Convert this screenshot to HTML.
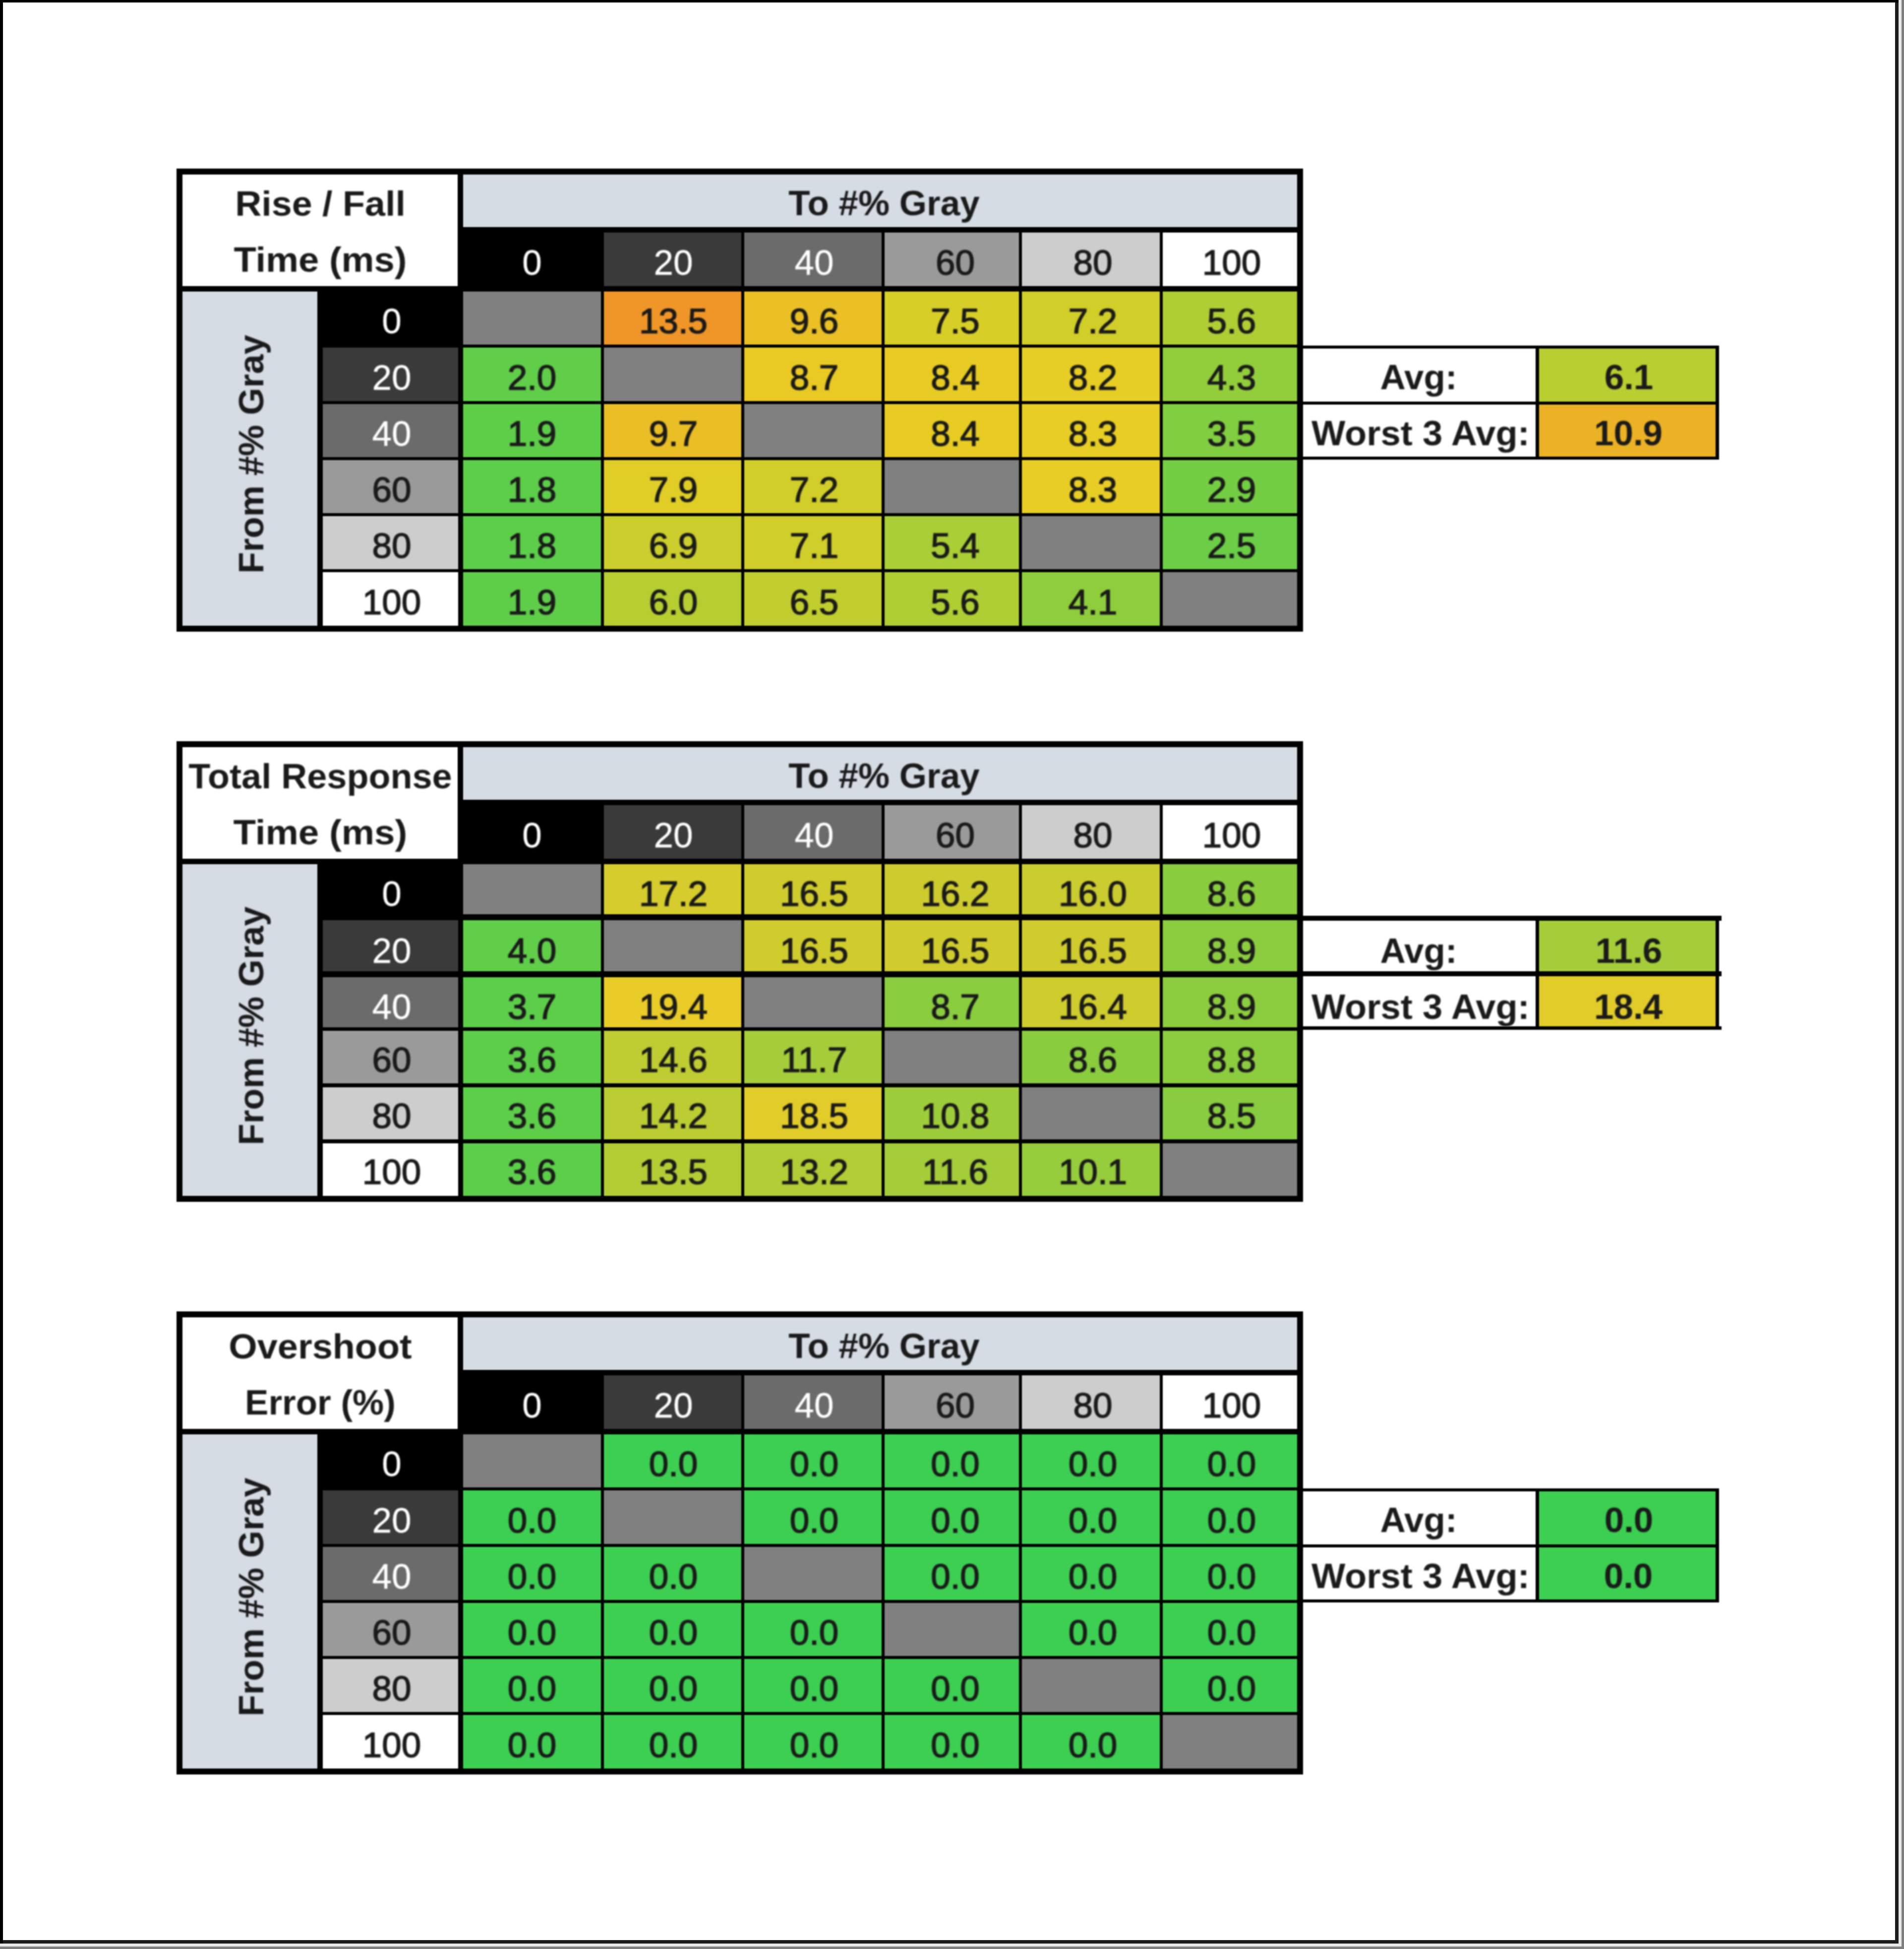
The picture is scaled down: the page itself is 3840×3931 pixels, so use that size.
<!DOCTYPE html>
<html><head><meta charset="utf-8"><style>
html,body{margin:0;padding:0;}
body{width:3840px;height:3931px;position:relative;overflow:hidden;background:#ffffff;font-family:"Liberation Sans", sans-serif;}
body>div,#w>div,#w2>div{position:absolute;}
.t{height:0;line-height:0;text-align:center;white-space:nowrap;}
.b{font-weight:bold;}
.r{font-weight:normal;-webkit-text-stroke:1.6px currentColor;}
.rw{font-weight:normal;-webkit-text-stroke:0.4px currentColor;}
</style></head><body>
<div style="left:0;top:0;width:3840px;height:3931px;background:#808080"></div>
<div style="left:0;top:0;width:3835px;height:3926px;background:#e8e8e8"></div>
<div style="left:0;top:0;width:3829px;height:3920px;background:#1c1c1c"></div>
<div style="left:0;top:0;width:3829px;height:5px;background:#000"></div>
<div style="left:0;top:0;width:6px;height:3920px;background:#000"></div>
<div style="left:6px;top:5px;width:3816px;height:3908px;background:#ffffff"></div>
<div id="w" style="left:0;top:0;width:3840px;height:3931px;filter:blur(1.2px)">
<div style="left:356px;top:340px;width:2272px;height:934px;background:#000000"></div>
<div style="left:368px;top:352px;width:555px;height:225px;background:#ffffff"></div>
<div style="left:934px;top:352px;width:1682px;height:106px;background:#d6dce4"></div>
<div style="left:934px;top:469px;width:278px;height:108px;background:#000000"></div>
<div style="left:1218px;top:469px;width:277px;height:108px;background:#3a3a3a"></div>
<div style="left:1501px;top:469px;width:277px;height:108px;background:#6b6b6b"></div>
<div style="left:1784px;top:469px;width:271px;height:108px;background:#9a9a9a"></div>
<div style="left:2061px;top:469px;width:278px;height:108px;background:#cdcdcd"></div>
<div style="left:2345px;top:469px;width:271px;height:108px;background:#ffffff"></div>
<div style="left:368px;top:588px;width:272px;height:674px;background:#d6dce4"></div>
<div style="left:651px;top:588px;width:273px;height:107px;background:#000000"></div>
<div style="left:934px;top:588px;width:278px;height:107px;background:#808080"></div>
<div style="left:1218px;top:588px;width:277px;height:107px;background:#f09628"></div>
<div style="left:1501px;top:588px;width:277px;height:107px;background:#eac025"></div>
<div style="left:1784px;top:588px;width:271px;height:107px;background:#d8ce28"></div>
<div style="left:2061px;top:588px;width:278px;height:107px;background:#d1ce2a"></div>
<div style="left:2345px;top:588px;width:271px;height:107px;background:#aece34"></div>
<div style="left:651px;top:701px;width:273px;height:108px;background:#3a3a3a"></div>
<div style="left:934px;top:701px;width:278px;height:108px;background:#60ce49"></div>
<div style="left:1218px;top:701px;width:277px;height:108px;background:#808080"></div>
<div style="left:1501px;top:701px;width:277px;height:108px;background:#e9c924"></div>
<div style="left:1784px;top:701px;width:271px;height:108px;background:#e8cc24"></div>
<div style="left:2061px;top:701px;width:278px;height:108px;background:#e7ce24"></div>
<div style="left:2345px;top:701px;width:271px;height:108px;background:#92ce3b"></div>
<div style="left:651px;top:815px;width:273px;height:107px;background:#6b6b6b"></div>
<div style="left:934px;top:815px;width:278px;height:107px;background:#5ece49"></div>
<div style="left:1218px;top:815px;width:277px;height:107px;background:#eabf25"></div>
<div style="left:1501px;top:815px;width:277px;height:107px;background:#808080"></div>
<div style="left:1784px;top:815px;width:271px;height:107px;background:#e8cc24"></div>
<div style="left:2061px;top:815px;width:278px;height:107px;background:#e8cd24"></div>
<div style="left:2345px;top:815px;width:271px;height:107px;background:#81ce40"></div>
<div style="left:651px;top:928px;width:273px;height:107px;background:#9a9a9a"></div>
<div style="left:934px;top:928px;width:278px;height:107px;background:#5cce4a"></div>
<div style="left:1218px;top:928px;width:277px;height:107px;background:#e0ce26"></div>
<div style="left:1501px;top:928px;width:277px;height:107px;background:#d1ce2a"></div>
<div style="left:1784px;top:928px;width:271px;height:107px;background:#808080"></div>
<div style="left:2061px;top:928px;width:278px;height:107px;background:#e8cd24"></div>
<div style="left:2345px;top:928px;width:271px;height:107px;background:#74ce44"></div>
<div style="left:651px;top:1041px;width:273px;height:107px;background:#cdcdcd"></div>
<div style="left:934px;top:1041px;width:278px;height:107px;background:#5cce4a"></div>
<div style="left:1218px;top:1041px;width:277px;height:107px;background:#cbce2c"></div>
<div style="left:1501px;top:1041px;width:277px;height:107px;background:#cfce2b"></div>
<div style="left:1784px;top:1041px;width:271px;height:107px;background:#aace35"></div>
<div style="left:2061px;top:1041px;width:278px;height:107px;background:#808080"></div>
<div style="left:2345px;top:1041px;width:271px;height:107px;background:#6bce46"></div>
<div style="left:651px;top:1154px;width:273px;height:108px;background:#ffffff"></div>
<div style="left:934px;top:1154px;width:278px;height:108px;background:#5ece49"></div>
<div style="left:1218px;top:1154px;width:277px;height:108px;background:#b7ce31"></div>
<div style="left:1501px;top:1154px;width:277px;height:108px;background:#c2ce2e"></div>
<div style="left:1784px;top:1154px;width:271px;height:108px;background:#aece34"></div>
<div style="left:2061px;top:1154px;width:278px;height:108px;background:#8ece3c"></div>
<div style="left:2345px;top:1154px;width:271px;height:108px;background:#808080"></div>
<div style="left:2628px;top:697px;width:839px;height:230px;background:#000000"></div>
<div style="left:2628px;top:703px;width:469px;height:107px;background:#ffffff"></div>
<div style="left:3104px;top:703px;width:356px;height:107px;background:#b9ce31"></div>
<div style="left:2628px;top:816px;width:469px;height:105px;background:#ffffff"></div>
<div style="left:3104px;top:816px;width:356px;height:105px;background:#ecb226"></div>
<div style="left:356px;top:1495px;width:2272px;height:929px;background:#000000"></div>
<div style="left:368px;top:1507px;width:555px;height:225px;background:#ffffff"></div>
<div style="left:934px;top:1507px;width:1682px;height:106px;background:#d6dce4"></div>
<div style="left:934px;top:1624px;width:278px;height:108px;background:#000000"></div>
<div style="left:1218px;top:1624px;width:277px;height:108px;background:#3a3a3a"></div>
<div style="left:1501px;top:1624px;width:277px;height:108px;background:#6b6b6b"></div>
<div style="left:1784px;top:1624px;width:271px;height:108px;background:#9a9a9a"></div>
<div style="left:2061px;top:1624px;width:278px;height:108px;background:#cdcdcd"></div>
<div style="left:2345px;top:1624px;width:271px;height:108px;background:#ffffff"></div>
<div style="left:368px;top:1743px;width:272px;height:669px;background:#d6dce4"></div>
<div style="left:651px;top:1743px;width:273px;height:101px;background:#000000"></div>
<div style="left:934px;top:1743px;width:278px;height:101px;background:#808080"></div>
<div style="left:1218px;top:1743px;width:277px;height:101px;background:#d6cc2d"></div>
<div style="left:1501px;top:1743px;width:277px;height:101px;background:#d0cc2e"></div>
<div style="left:1784px;top:1743px;width:271px;height:101px;background:#cdcc2f"></div>
<div style="left:2061px;top:1743px;width:278px;height:101px;background:#cbcc2f"></div>
<div style="left:2345px;top:1743px;width:271px;height:101px;background:#89cd3f"></div>
<div style="left:651px;top:1856px;width:273px;height:103px;background:#3a3a3a"></div>
<div style="left:934px;top:1856px;width:278px;height:103px;background:#60ce49"></div>
<div style="left:1218px;top:1856px;width:277px;height:103px;background:#808080"></div>
<div style="left:1501px;top:1856px;width:277px;height:103px;background:#d0cc2e"></div>
<div style="left:1784px;top:1856px;width:271px;height:103px;background:#d0cc2e"></div>
<div style="left:2061px;top:1856px;width:278px;height:103px;background:#d0cc2e"></div>
<div style="left:2345px;top:1856px;width:271px;height:103px;background:#8ccd3f"></div>
<div style="left:651px;top:1971px;width:273px;height:101px;background:#6b6b6b"></div>
<div style="left:934px;top:1971px;width:278px;height:101px;background:#5dce4a"></div>
<div style="left:1218px;top:1971px;width:277px;height:101px;background:#eacc28"></div>
<div style="left:1501px;top:1971px;width:277px;height:101px;background:#808080"></div>
<div style="left:1784px;top:1971px;width:271px;height:101px;background:#8acd3f"></div>
<div style="left:2061px;top:1971px;width:278px;height:101px;background:#cfcc2e"></div>
<div style="left:2345px;top:1971px;width:271px;height:101px;background:#8ccd3f"></div>
<div style="left:651px;top:2079px;width:273px;height:106px;background:#9a9a9a"></div>
<div style="left:934px;top:2079px;width:278px;height:106px;background:#5cce4a"></div>
<div style="left:1218px;top:2079px;width:277px;height:106px;background:#bfcd32"></div>
<div style="left:1501px;top:2079px;width:277px;height:106px;background:#a5cd39"></div>
<div style="left:1784px;top:2079px;width:271px;height:106px;background:#808080"></div>
<div style="left:2061px;top:2079px;width:278px;height:106px;background:#89cd3f"></div>
<div style="left:2345px;top:2079px;width:271px;height:106px;background:#8bcd3f"></div>
<div style="left:651px;top:2193px;width:273px;height:105px;background:#cdcdcd"></div>
<div style="left:934px;top:2193px;width:278px;height:105px;background:#5cce4a"></div>
<div style="left:1218px;top:2193px;width:277px;height:105px;background:#bbcd33"></div>
<div style="left:1501px;top:2193px;width:277px;height:105px;background:#e2cc2a"></div>
<div style="left:1784px;top:2193px;width:271px;height:105px;background:#9dcd3b"></div>
<div style="left:2061px;top:2193px;width:278px;height:105px;background:#808080"></div>
<div style="left:2345px;top:2193px;width:271px;height:105px;background:#88cd3f"></div>
<div style="left:651px;top:2306px;width:273px;height:106px;background:#ffffff"></div>
<div style="left:934px;top:2306px;width:278px;height:106px;background:#5cce4a"></div>
<div style="left:1218px;top:2306px;width:277px;height:106px;background:#b5cd35"></div>
<div style="left:1501px;top:2306px;width:277px;height:106px;background:#b2cd35"></div>
<div style="left:1784px;top:2306px;width:271px;height:106px;background:#a4cd39"></div>
<div style="left:2061px;top:2306px;width:278px;height:106px;background:#96cd3c"></div>
<div style="left:2345px;top:2306px;width:271px;height:106px;background:#808080"></div>
<div style="left:2628px;top:1847px;width:839px;height:230px;background:#000000"></div>
<div style="left:3460px;top:1847px;width:12px;height:10px;background:#000000"></div>
<div style="left:3460px;top:1959px;width:12px;height:10px;background:#000000"></div>
<div style="left:3460px;top:2070px;width:12px;height:7px;background:#000000"></div>
<div style="left:2628px;top:1857px;width:469px;height:102px;background:#ffffff"></div>
<div style="left:3104px;top:1857px;width:356px;height:102px;background:#a4cd39"></div>
<div style="left:2628px;top:1969px;width:469px;height:101px;background:#ffffff"></div>
<div style="left:3104px;top:1969px;width:356px;height:101px;background:#e1cc2a"></div>
<div style="left:356px;top:2645px;width:2272px;height:934px;background:#000000"></div>
<div style="left:368px;top:2657px;width:555px;height:225px;background:#ffffff"></div>
<div style="left:934px;top:2657px;width:1682px;height:106px;background:#d6dce4"></div>
<div style="left:934px;top:2774px;width:278px;height:108px;background:#000000"></div>
<div style="left:1218px;top:2774px;width:277px;height:108px;background:#3a3a3a"></div>
<div style="left:1501px;top:2774px;width:277px;height:108px;background:#6b6b6b"></div>
<div style="left:1784px;top:2774px;width:271px;height:108px;background:#9a9a9a"></div>
<div style="left:2061px;top:2774px;width:278px;height:108px;background:#cdcdcd"></div>
<div style="left:2345px;top:2774px;width:271px;height:108px;background:#ffffff"></div>
<div style="left:368px;top:2893px;width:272px;height:674px;background:#d6dce4"></div>
<div style="left:651px;top:2893px;width:273px;height:107px;background:#000000"></div>
<div style="left:934px;top:2893px;width:278px;height:107px;background:#808080"></div>
<div style="left:1218px;top:2893px;width:277px;height:107px;background:#3ccf52"></div>
<div style="left:1501px;top:2893px;width:277px;height:107px;background:#3ccf52"></div>
<div style="left:1784px;top:2893px;width:271px;height:107px;background:#3ccf52"></div>
<div style="left:2061px;top:2893px;width:278px;height:107px;background:#3ccf52"></div>
<div style="left:2345px;top:2893px;width:271px;height:107px;background:#3ccf52"></div>
<div style="left:651px;top:3006px;width:273px;height:108px;background:#3a3a3a"></div>
<div style="left:934px;top:3006px;width:278px;height:108px;background:#3ccf52"></div>
<div style="left:1218px;top:3006px;width:277px;height:108px;background:#808080"></div>
<div style="left:1501px;top:3006px;width:277px;height:108px;background:#3ccf52"></div>
<div style="left:1784px;top:3006px;width:271px;height:108px;background:#3ccf52"></div>
<div style="left:2061px;top:3006px;width:278px;height:108px;background:#3ccf52"></div>
<div style="left:2345px;top:3006px;width:271px;height:108px;background:#3ccf52"></div>
<div style="left:651px;top:3120px;width:273px;height:107px;background:#6b6b6b"></div>
<div style="left:934px;top:3120px;width:278px;height:107px;background:#3ccf52"></div>
<div style="left:1218px;top:3120px;width:277px;height:107px;background:#3ccf52"></div>
<div style="left:1501px;top:3120px;width:277px;height:107px;background:#808080"></div>
<div style="left:1784px;top:3120px;width:271px;height:107px;background:#3ccf52"></div>
<div style="left:2061px;top:3120px;width:278px;height:107px;background:#3ccf52"></div>
<div style="left:2345px;top:3120px;width:271px;height:107px;background:#3ccf52"></div>
<div style="left:651px;top:3233px;width:273px;height:107px;background:#9a9a9a"></div>
<div style="left:934px;top:3233px;width:278px;height:107px;background:#3ccf52"></div>
<div style="left:1218px;top:3233px;width:277px;height:107px;background:#3ccf52"></div>
<div style="left:1501px;top:3233px;width:277px;height:107px;background:#3ccf52"></div>
<div style="left:1784px;top:3233px;width:271px;height:107px;background:#808080"></div>
<div style="left:2061px;top:3233px;width:278px;height:107px;background:#3ccf52"></div>
<div style="left:2345px;top:3233px;width:271px;height:107px;background:#3ccf52"></div>
<div style="left:651px;top:3346px;width:273px;height:107px;background:#cdcdcd"></div>
<div style="left:934px;top:3346px;width:278px;height:107px;background:#3ccf52"></div>
<div style="left:1218px;top:3346px;width:277px;height:107px;background:#3ccf52"></div>
<div style="left:1501px;top:3346px;width:277px;height:107px;background:#3ccf52"></div>
<div style="left:1784px;top:3346px;width:271px;height:107px;background:#3ccf52"></div>
<div style="left:2061px;top:3346px;width:278px;height:107px;background:#808080"></div>
<div style="left:2345px;top:3346px;width:271px;height:107px;background:#3ccf52"></div>
<div style="left:651px;top:3459px;width:273px;height:108px;background:#ffffff"></div>
<div style="left:934px;top:3459px;width:278px;height:108px;background:#3ccf52"></div>
<div style="left:1218px;top:3459px;width:277px;height:108px;background:#3ccf52"></div>
<div style="left:1501px;top:3459px;width:277px;height:108px;background:#3ccf52"></div>
<div style="left:1784px;top:3459px;width:271px;height:108px;background:#3ccf52"></div>
<div style="left:2061px;top:3459px;width:278px;height:108px;background:#3ccf52"></div>
<div style="left:2345px;top:3459px;width:271px;height:108px;background:#808080"></div>
<div style="left:2628px;top:3002px;width:839px;height:230px;background:#000000"></div>
<div style="left:2628px;top:3008px;width:469px;height:107px;background:#ffffff"></div>
<div style="left:3104px;top:3008px;width:356px;height:107px;background:#3ccf52"></div>
<div style="left:2628px;top:3121px;width:469px;height:105px;background:#ffffff"></div>
<div style="left:3104px;top:3121px;width:356px;height:105px;background:#3ccf52"></div>
</div>
<div id="w2" style="left:0;top:0;width:3840px;height:3931px;filter:blur(1.6px)">
<div class="t b" style="left:46.0px;top:411.4px;width:1200px;font-size:71px;color:#1a1a1a;transform:scaleX(1.037)">Rise / Fall</div>
<div class="t b" style="left:46.0px;top:524.4px;width:1200px;font-size:71px;color:#1a1a1a;transform:scaleX(1.045)">Time (ms)</div>
<div class="t b" style="left:1183.0px;top:410.4px;width:1200px;font-size:71px;color:#1a1a1a">To #% Gray</div>
<div class="t rw" style="left:473.0px;top:530.4px;width:1200px;font-size:71px;color:#ffffff">0</div>
<div class="t rw" style="left:758.0px;top:530.4px;width:1200px;font-size:71px;color:#ffffff">20</div>
<div class="t rw" style="left:1042.0px;top:530.4px;width:1200px;font-size:71px;color:#ffffff">40</div>
<div class="t r" style="left:1326.5px;top:530.4px;width:1200px;font-size:71px;color:#1a1a1a">60</div>
<div class="t r" style="left:1604.0px;top:530.4px;width:1200px;font-size:71px;color:#1a1a1a">80</div>
<div class="t r" style="left:1884.0px;top:530.4px;width:1200px;font-size:71px;color:#1a1a1a">100</div>
<div class="t" style="left:-92.6px;top:916.0px;width:1200px;font-size:71px;font-weight:bold;color:#1a1a1a;transform-origin:50% 0;transform:rotate(-90deg) scaleX(1.0)">From #% Gray</div>
<div class="t rw" style="left:190.0px;top:648.4px;width:1200px;font-size:71px;color:#ffffff">0</div>
<div class="t r" style="left:758.0px;top:648.4px;width:1200px;font-size:71px;color:#1a1a1a">13.5</div>
<div class="t r" style="left:1042.0px;top:648.4px;width:1200px;font-size:71px;color:#1a1a1a">9.6</div>
<div class="t r" style="left:1326.5px;top:648.4px;width:1200px;font-size:71px;color:#1a1a1a">7.5</div>
<div class="t r" style="left:1604.0px;top:648.4px;width:1200px;font-size:71px;color:#1a1a1a">7.2</div>
<div class="t r" style="left:1884.0px;top:648.4px;width:1200px;font-size:71px;color:#1a1a1a">5.6</div>
<div class="t rw" style="left:190.0px;top:762.4px;width:1200px;font-size:71px;color:#ffffff">20</div>
<div class="t r" style="left:473.0px;top:762.4px;width:1200px;font-size:71px;color:#1a1a1a">2.0</div>
<div class="t r" style="left:1042.0px;top:762.4px;width:1200px;font-size:71px;color:#1a1a1a">8.7</div>
<div class="t r" style="left:1326.5px;top:762.4px;width:1200px;font-size:71px;color:#1a1a1a">8.4</div>
<div class="t r" style="left:1604.0px;top:762.4px;width:1200px;font-size:71px;color:#1a1a1a">8.2</div>
<div class="t r" style="left:1884.0px;top:762.4px;width:1200px;font-size:71px;color:#1a1a1a">4.3</div>
<div class="t rw" style="left:190.0px;top:875.4px;width:1200px;font-size:71px;color:#ffffff">40</div>
<div class="t r" style="left:473.0px;top:875.4px;width:1200px;font-size:71px;color:#1a1a1a">1.9</div>
<div class="t r" style="left:758.0px;top:875.4px;width:1200px;font-size:71px;color:#1a1a1a">9.7</div>
<div class="t r" style="left:1326.5px;top:875.4px;width:1200px;font-size:71px;color:#1a1a1a">8.4</div>
<div class="t r" style="left:1604.0px;top:875.4px;width:1200px;font-size:71px;color:#1a1a1a">8.3</div>
<div class="t r" style="left:1884.0px;top:875.4px;width:1200px;font-size:71px;color:#1a1a1a">3.5</div>
<div class="t r" style="left:190.0px;top:988.4px;width:1200px;font-size:71px;color:#1a1a1a">60</div>
<div class="t r" style="left:473.0px;top:988.4px;width:1200px;font-size:71px;color:#1a1a1a">1.8</div>
<div class="t r" style="left:758.0px;top:988.4px;width:1200px;font-size:71px;color:#1a1a1a">7.9</div>
<div class="t r" style="left:1042.0px;top:988.4px;width:1200px;font-size:71px;color:#1a1a1a">7.2</div>
<div class="t r" style="left:1604.0px;top:988.4px;width:1200px;font-size:71px;color:#1a1a1a">8.3</div>
<div class="t r" style="left:1884.0px;top:988.4px;width:1200px;font-size:71px;color:#1a1a1a">2.9</div>
<div class="t r" style="left:190.0px;top:1101.4px;width:1200px;font-size:71px;color:#1a1a1a">80</div>
<div class="t r" style="left:473.0px;top:1101.4px;width:1200px;font-size:71px;color:#1a1a1a">1.8</div>
<div class="t r" style="left:758.0px;top:1101.4px;width:1200px;font-size:71px;color:#1a1a1a">6.9</div>
<div class="t r" style="left:1042.0px;top:1101.4px;width:1200px;font-size:71px;color:#1a1a1a">7.1</div>
<div class="t r" style="left:1326.5px;top:1101.4px;width:1200px;font-size:71px;color:#1a1a1a">5.4</div>
<div class="t r" style="left:1884.0px;top:1101.4px;width:1200px;font-size:71px;color:#1a1a1a">2.5</div>
<div class="t r" style="left:190.0px;top:1215.4px;width:1200px;font-size:71px;color:#1a1a1a">100</div>
<div class="t r" style="left:473.0px;top:1215.4px;width:1200px;font-size:71px;color:#1a1a1a">1.9</div>
<div class="t r" style="left:758.0px;top:1215.4px;width:1200px;font-size:71px;color:#1a1a1a">6.0</div>
<div class="t r" style="left:1042.0px;top:1215.4px;width:1200px;font-size:71px;color:#1a1a1a">6.5</div>
<div class="t r" style="left:1326.5px;top:1215.4px;width:1200px;font-size:71px;color:#1a1a1a">5.6</div>
<div class="t r" style="left:1604.0px;top:1215.4px;width:1200px;font-size:71px;color:#1a1a1a">4.1</div>
<div class="t b" style="left:2261.0px;top:761.4px;width:1200px;font-size:71px;color:#1a1a1a">Avg:</div>
<div class="t b" style="left:2265.0px;top:874.4px;width:1200px;font-size:71px;color:#1a1a1a;transform:scaleX(1.02)">Worst 3 Avg:</div>
<div class="t b" style="left:2685.0px;top:761.4px;width:1200px;font-size:71px;color:#1a1a1a">6.1</div>
<div class="t b" style="left:2684.0px;top:874.4px;width:1200px;font-size:71px;color:#1a1a1a">10.9</div>
<div class="t b" style="left:46.0px;top:1566.4px;width:1200px;font-size:71px;color:#1a1a1a;transform:scaleX(1.015)">Total Response</div>
<div class="t b" style="left:46.0px;top:1679.4px;width:1200px;font-size:71px;color:#1a1a1a;transform:scaleX(1.05)">Time (ms)</div>
<div class="t b" style="left:1183.0px;top:1565.4px;width:1200px;font-size:71px;color:#1a1a1a">To #% Gray</div>
<div class="t rw" style="left:473.0px;top:1685.4px;width:1200px;font-size:71px;color:#ffffff">0</div>
<div class="t rw" style="left:758.0px;top:1685.4px;width:1200px;font-size:71px;color:#ffffff">20</div>
<div class="t rw" style="left:1042.0px;top:1685.4px;width:1200px;font-size:71px;color:#ffffff">40</div>
<div class="t r" style="left:1326.5px;top:1685.4px;width:1200px;font-size:71px;color:#1a1a1a">60</div>
<div class="t r" style="left:1604.0px;top:1685.4px;width:1200px;font-size:71px;color:#1a1a1a">80</div>
<div class="t r" style="left:1884.0px;top:1685.4px;width:1200px;font-size:71px;color:#1a1a1a">100</div>
<div class="t" style="left:-92.6px;top:2068.5px;width:1200px;font-size:71px;font-weight:bold;color:#1a1a1a;transform-origin:50% 0;transform:rotate(-90deg) scaleX(1.0)">From #% Gray</div>
<div class="t rw" style="left:190.0px;top:1803.4px;width:1200px;font-size:71px;color:#ffffff">0</div>
<div class="t r" style="left:758.0px;top:1803.4px;width:1200px;font-size:71px;color:#1a1a1a">17.2</div>
<div class="t r" style="left:1042.0px;top:1803.4px;width:1200px;font-size:71px;color:#1a1a1a">16.5</div>
<div class="t r" style="left:1326.5px;top:1803.4px;width:1200px;font-size:71px;color:#1a1a1a">16.2</div>
<div class="t r" style="left:1604.0px;top:1803.4px;width:1200px;font-size:71px;color:#1a1a1a">16.0</div>
<div class="t r" style="left:1884.0px;top:1803.4px;width:1200px;font-size:71px;color:#1a1a1a">8.6</div>
<div class="t rw" style="left:190.0px;top:1918.4px;width:1200px;font-size:71px;color:#ffffff">20</div>
<div class="t r" style="left:473.0px;top:1918.4px;width:1200px;font-size:71px;color:#1a1a1a">4.0</div>
<div class="t r" style="left:1042.0px;top:1918.4px;width:1200px;font-size:71px;color:#1a1a1a">16.5</div>
<div class="t r" style="left:1326.5px;top:1918.4px;width:1200px;font-size:71px;color:#1a1a1a">16.5</div>
<div class="t r" style="left:1604.0px;top:1918.4px;width:1200px;font-size:71px;color:#1a1a1a">16.5</div>
<div class="t r" style="left:1884.0px;top:1918.4px;width:1200px;font-size:71px;color:#1a1a1a">8.9</div>
<div class="t rw" style="left:190.0px;top:2031.4px;width:1200px;font-size:71px;color:#ffffff">40</div>
<div class="t r" style="left:473.0px;top:2031.4px;width:1200px;font-size:71px;color:#1a1a1a">3.7</div>
<div class="t r" style="left:758.0px;top:2031.4px;width:1200px;font-size:71px;color:#1a1a1a">19.4</div>
<div class="t r" style="left:1326.5px;top:2031.4px;width:1200px;font-size:71px;color:#1a1a1a">8.7</div>
<div class="t r" style="left:1604.0px;top:2031.4px;width:1200px;font-size:71px;color:#1a1a1a">16.4</div>
<div class="t r" style="left:1884.0px;top:2031.4px;width:1200px;font-size:71px;color:#1a1a1a">8.9</div>
<div class="t r" style="left:190.0px;top:2138.4px;width:1200px;font-size:71px;color:#1a1a1a">60</div>
<div class="t r" style="left:473.0px;top:2138.4px;width:1200px;font-size:71px;color:#1a1a1a">3.6</div>
<div class="t r" style="left:758.0px;top:2138.4px;width:1200px;font-size:71px;color:#1a1a1a">14.6</div>
<div class="t r" style="left:1042.0px;top:2138.4px;width:1200px;font-size:71px;color:#1a1a1a">11.7</div>
<div class="t r" style="left:1604.0px;top:2138.4px;width:1200px;font-size:71px;color:#1a1a1a">8.6</div>
<div class="t r" style="left:1884.0px;top:2138.4px;width:1200px;font-size:71px;color:#1a1a1a">8.8</div>
<div class="t r" style="left:190.0px;top:2251.4px;width:1200px;font-size:71px;color:#1a1a1a">80</div>
<div class="t r" style="left:473.0px;top:2251.4px;width:1200px;font-size:71px;color:#1a1a1a">3.6</div>
<div class="t r" style="left:758.0px;top:2251.4px;width:1200px;font-size:71px;color:#1a1a1a">14.2</div>
<div class="t r" style="left:1042.0px;top:2251.4px;width:1200px;font-size:71px;color:#1a1a1a">18.5</div>
<div class="t r" style="left:1326.5px;top:2251.4px;width:1200px;font-size:71px;color:#1a1a1a">10.8</div>
<div class="t r" style="left:1884.0px;top:2251.4px;width:1200px;font-size:71px;color:#1a1a1a">8.5</div>
<div class="t r" style="left:190.0px;top:2364.4px;width:1200px;font-size:71px;color:#1a1a1a">100</div>
<div class="t r" style="left:473.0px;top:2364.4px;width:1200px;font-size:71px;color:#1a1a1a">3.6</div>
<div class="t r" style="left:758.0px;top:2364.4px;width:1200px;font-size:71px;color:#1a1a1a">13.5</div>
<div class="t r" style="left:1042.0px;top:2364.4px;width:1200px;font-size:71px;color:#1a1a1a">13.2</div>
<div class="t r" style="left:1326.5px;top:2364.4px;width:1200px;font-size:71px;color:#1a1a1a">11.6</div>
<div class="t r" style="left:1604.0px;top:2364.4px;width:1200px;font-size:71px;color:#1a1a1a">10.1</div>
<div class="t b" style="left:2261.0px;top:1918.4px;width:1200px;font-size:71px;color:#1a1a1a">Avg:</div>
<div class="t b" style="left:2265.0px;top:2031.4px;width:1200px;font-size:71px;color:#1a1a1a;transform:scaleX(1.02)">Worst 3 Avg:</div>
<div class="t b" style="left:2685.0px;top:1918.4px;width:1200px;font-size:71px;color:#1a1a1a">11.6</div>
<div class="t b" style="left:2684.0px;top:2031.4px;width:1200px;font-size:71px;color:#1a1a1a">18.4</div>
<div class="t b" style="left:46.0px;top:2716.4px;width:1200px;font-size:71px;color:#1a1a1a;transform:scaleX(1.04)">Overshoot</div>
<div class="t b" style="left:46.0px;top:2829.4px;width:1200px;font-size:71px;color:#1a1a1a">Error (%)</div>
<div class="t b" style="left:1183.0px;top:2715.4px;width:1200px;font-size:71px;color:#1a1a1a">To #% Gray</div>
<div class="t rw" style="left:473.0px;top:2835.4px;width:1200px;font-size:71px;color:#ffffff">0</div>
<div class="t rw" style="left:758.0px;top:2835.4px;width:1200px;font-size:71px;color:#ffffff">20</div>
<div class="t rw" style="left:1042.0px;top:2835.4px;width:1200px;font-size:71px;color:#ffffff">40</div>
<div class="t r" style="left:1326.5px;top:2835.4px;width:1200px;font-size:71px;color:#1a1a1a">60</div>
<div class="t r" style="left:1604.0px;top:2835.4px;width:1200px;font-size:71px;color:#1a1a1a">80</div>
<div class="t r" style="left:1884.0px;top:2835.4px;width:1200px;font-size:71px;color:#1a1a1a">100</div>
<div class="t" style="left:-92.6px;top:3221.0px;width:1200px;font-size:71px;font-weight:bold;color:#1a1a1a;transform-origin:50% 0;transform:rotate(-90deg) scaleX(1.0)">From #% Gray</div>
<div class="t rw" style="left:190.0px;top:2953.4px;width:1200px;font-size:71px;color:#ffffff">0</div>
<div class="t r" style="left:758.0px;top:2953.4px;width:1200px;font-size:71px;color:#1a1a1a">0.0</div>
<div class="t r" style="left:1042.0px;top:2953.4px;width:1200px;font-size:71px;color:#1a1a1a">0.0</div>
<div class="t r" style="left:1326.5px;top:2953.4px;width:1200px;font-size:71px;color:#1a1a1a">0.0</div>
<div class="t r" style="left:1604.0px;top:2953.4px;width:1200px;font-size:71px;color:#1a1a1a">0.0</div>
<div class="t r" style="left:1884.0px;top:2953.4px;width:1200px;font-size:71px;color:#1a1a1a">0.0</div>
<div class="t rw" style="left:190.0px;top:3067.4px;width:1200px;font-size:71px;color:#ffffff">20</div>
<div class="t r" style="left:473.0px;top:3067.4px;width:1200px;font-size:71px;color:#1a1a1a">0.0</div>
<div class="t r" style="left:1042.0px;top:3067.4px;width:1200px;font-size:71px;color:#1a1a1a">0.0</div>
<div class="t r" style="left:1326.5px;top:3067.4px;width:1200px;font-size:71px;color:#1a1a1a">0.0</div>
<div class="t r" style="left:1604.0px;top:3067.4px;width:1200px;font-size:71px;color:#1a1a1a">0.0</div>
<div class="t r" style="left:1884.0px;top:3067.4px;width:1200px;font-size:71px;color:#1a1a1a">0.0</div>
<div class="t rw" style="left:190.0px;top:3180.4px;width:1200px;font-size:71px;color:#ffffff">40</div>
<div class="t r" style="left:473.0px;top:3180.4px;width:1200px;font-size:71px;color:#1a1a1a">0.0</div>
<div class="t r" style="left:758.0px;top:3180.4px;width:1200px;font-size:71px;color:#1a1a1a">0.0</div>
<div class="t r" style="left:1326.5px;top:3180.4px;width:1200px;font-size:71px;color:#1a1a1a">0.0</div>
<div class="t r" style="left:1604.0px;top:3180.4px;width:1200px;font-size:71px;color:#1a1a1a">0.0</div>
<div class="t r" style="left:1884.0px;top:3180.4px;width:1200px;font-size:71px;color:#1a1a1a">0.0</div>
<div class="t r" style="left:190.0px;top:3293.4px;width:1200px;font-size:71px;color:#1a1a1a">60</div>
<div class="t r" style="left:473.0px;top:3293.4px;width:1200px;font-size:71px;color:#1a1a1a">0.0</div>
<div class="t r" style="left:758.0px;top:3293.4px;width:1200px;font-size:71px;color:#1a1a1a">0.0</div>
<div class="t r" style="left:1042.0px;top:3293.4px;width:1200px;font-size:71px;color:#1a1a1a">0.0</div>
<div class="t r" style="left:1604.0px;top:3293.4px;width:1200px;font-size:71px;color:#1a1a1a">0.0</div>
<div class="t r" style="left:1884.0px;top:3293.4px;width:1200px;font-size:71px;color:#1a1a1a">0.0</div>
<div class="t r" style="left:190.0px;top:3406.4px;width:1200px;font-size:71px;color:#1a1a1a">80</div>
<div class="t r" style="left:473.0px;top:3406.4px;width:1200px;font-size:71px;color:#1a1a1a">0.0</div>
<div class="t r" style="left:758.0px;top:3406.4px;width:1200px;font-size:71px;color:#1a1a1a">0.0</div>
<div class="t r" style="left:1042.0px;top:3406.4px;width:1200px;font-size:71px;color:#1a1a1a">0.0</div>
<div class="t r" style="left:1326.5px;top:3406.4px;width:1200px;font-size:71px;color:#1a1a1a">0.0</div>
<div class="t r" style="left:1884.0px;top:3406.4px;width:1200px;font-size:71px;color:#1a1a1a">0.0</div>
<div class="t r" style="left:190.0px;top:3520.4px;width:1200px;font-size:71px;color:#1a1a1a">100</div>
<div class="t r" style="left:473.0px;top:3520.4px;width:1200px;font-size:71px;color:#1a1a1a">0.0</div>
<div class="t r" style="left:758.0px;top:3520.4px;width:1200px;font-size:71px;color:#1a1a1a">0.0</div>
<div class="t r" style="left:1042.0px;top:3520.4px;width:1200px;font-size:71px;color:#1a1a1a">0.0</div>
<div class="t r" style="left:1326.5px;top:3520.4px;width:1200px;font-size:71px;color:#1a1a1a">0.0</div>
<div class="t r" style="left:1604.0px;top:3520.4px;width:1200px;font-size:71px;color:#1a1a1a">0.0</div>
<div class="t b" style="left:2261.0px;top:3066.4px;width:1200px;font-size:71px;color:#1a1a1a">Avg:</div>
<div class="t b" style="left:2265.0px;top:3179.4px;width:1200px;font-size:71px;color:#1a1a1a;transform:scaleX(1.02)">Worst 3 Avg:</div>
<div class="t b" style="left:2685.0px;top:3066.4px;width:1200px;font-size:71px;color:#1a1a1a">0.0</div>
<div class="t b" style="left:2684.0px;top:3179.4px;width:1200px;font-size:71px;color:#1a1a1a">0.0</div>
</div>
</body></html>
